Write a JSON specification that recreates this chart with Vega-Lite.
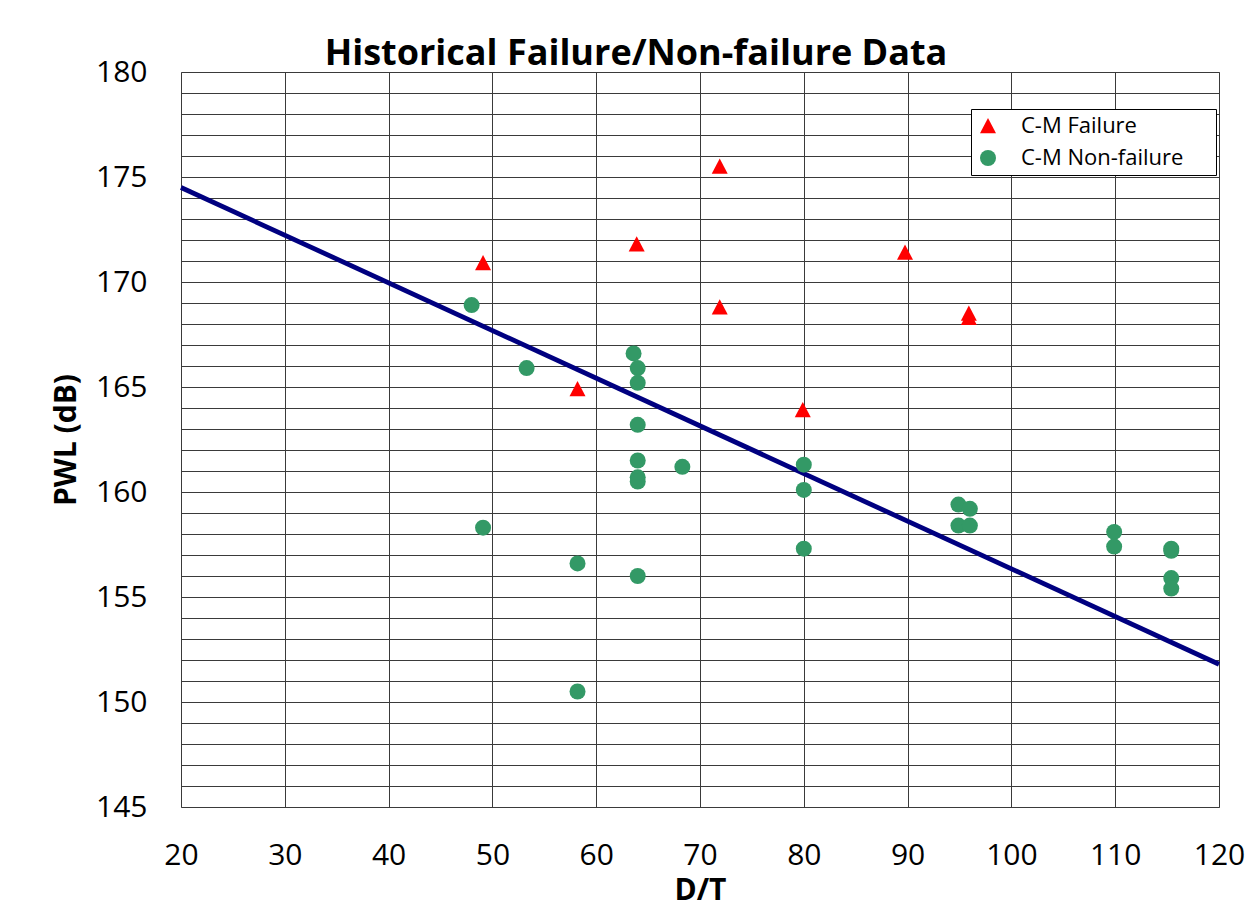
{
  "$schema": "https://vega.github.io/schema/vega-lite/v6.json",
  "width": 1038,
  "height": 735,
  "autosize": {"type": "none"},
  "padding": {"left": 181, "top": 72, "right": 28, "bottom": 100},
  "background": "white",
  "title": {
    "text": "Historical Failure/Non-failure Data",
    "font": "Open Sans",
    "fontSize": 36,
    "fontWeight": "bold",
    "color": "#000000",
    "anchor": "middle",
    "frame": "group",
    "dx": -64,
    "dy": 51,
    "baseline": "alphabetic",
    "offset": 7
  },
  "config": {
    "view": {"stroke": "#8c8c8c", "strokeWidth": 1},
    "axis": {
      "labelFont": "Open Sans",
      "labelFontSize": 30,
      "labelColor": "#000000",
      "labelFlush": false,
      "labelOverlap": false,
      "titleFont": "Open Sans",
      "titleFontSize": 30,
      "titleFontWeight": "bold",
      "titleColor": "#000000",
      "grid": true,
      "gridColor": "#3a3a3a",
      "gridWidth": 1,
      "gridOpacity": 1,
      "domain": false,
      "ticks": false
    },
    "legend": {
      "labelFont": "Open Sans",
      "labelFontSize": 22,
      "labelColor": "#000000",
      "labelLimit": 400
    }
  },
  "datasets": {
    "trend": [
      {"DT": 20, "PWL": 174.5},
      {"DT": 120, "PWL": 151.8}
    ],
    "points": [
      {"DT": 49.1, "PWL": 170.9, "Series": "C-M Failure"},
      {"DT": 63.9, "PWL": 171.8, "Series": "C-M Failure"},
      {"DT": 71.9, "PWL": 175.5, "Series": "C-M Failure"},
      {"DT": 71.9, "PWL": 168.8, "Series": "C-M Failure"},
      {"DT": 58.2, "PWL": 164.9, "Series": "C-M Failure"},
      {"DT": 79.9, "PWL": 163.9, "Series": "C-M Failure"},
      {"DT": 89.75, "PWL": 171.4, "Series": "C-M Failure"},
      {"DT": 95.9, "PWL": 168.5, "Series": "C-M Failure"},
      {"DT": 95.9, "PWL": 168.3, "Series": "C-M Failure"},
      {"DT": 48.0, "PWL": 168.9, "Series": "C-M Non-failure"},
      {"DT": 53.3, "PWL": 165.9, "Series": "C-M Non-failure"},
      {"DT": 49.1, "PWL": 158.3, "Series": "C-M Non-failure"},
      {"DT": 58.2, "PWL": 156.6, "Series": "C-M Non-failure"},
      {"DT": 58.2, "PWL": 150.5, "Series": "C-M Non-failure"},
      {"DT": 63.6, "PWL": 166.6, "Series": "C-M Non-failure"},
      {"DT": 64.0, "PWL": 165.9, "Series": "C-M Non-failure"},
      {"DT": 64.0, "PWL": 165.2, "Series": "C-M Non-failure"},
      {"DT": 64.0, "PWL": 163.2, "Series": "C-M Non-failure"},
      {"DT": 64.0, "PWL": 161.5, "Series": "C-M Non-failure"},
      {"DT": 64.0, "PWL": 160.7, "Series": "C-M Non-failure"},
      {"DT": 64.0, "PWL": 160.5, "Series": "C-M Non-failure"},
      {"DT": 64.0, "PWL": 156.0, "Series": "C-M Non-failure"},
      {"DT": 68.3, "PWL": 161.2, "Series": "C-M Non-failure"},
      {"DT": 80.0, "PWL": 161.3, "Series": "C-M Non-failure"},
      {"DT": 80.0, "PWL": 160.1, "Series": "C-M Non-failure"},
      {"DT": 80.0, "PWL": 157.3, "Series": "C-M Non-failure"},
      {"DT": 94.9, "PWL": 159.4, "Series": "C-M Non-failure"},
      {"DT": 96.0, "PWL": 159.2, "Series": "C-M Non-failure"},
      {"DT": 94.9, "PWL": 158.4, "Series": "C-M Non-failure"},
      {"DT": 96.0, "PWL": 158.4, "Series": "C-M Non-failure"},
      {"DT": 109.9, "PWL": 158.1, "Series": "C-M Non-failure"},
      {"DT": 109.9, "PWL": 157.4, "Series": "C-M Non-failure"},
      {"DT": 115.4, "PWL": 157.3, "Series": "C-M Non-failure"},
      {"DT": 115.4, "PWL": 157.2, "Series": "C-M Non-failure"},
      {"DT": 115.4, "PWL": 155.9, "Series": "C-M Non-failure"},
      {"DT": 115.4, "PWL": 155.4, "Series": "C-M Non-failure"}
    ]
  },
  "encoding": {
    "x": {
      "field": "DT",
      "type": "quantitative",
      "scale": {"domain": [20, 120], "nice": false, "zero": false},
      "axis": {
        "title": "D/T",
        "values": [20, 30, 40, 50, 60, 70, 80, 90, 100, 110, 120],
        "tickCount": 20,
        "format": "d",
        "labelPadding": 57,
        "labelBaseline": "alphabetic",
        "titleX": 519,
        "titleY": 92,
        "titleBaseline": "alphabetic",
        "titleAlign": "center"
      }
    },
    "y": {
      "field": "PWL",
      "type": "quantitative",
      "scale": {"domain": [145, 180], "nice": false, "zero": false},
      "axis": {
        "title": "PWL (dB)",
        "values": [145,146,147,148,149,150,151,152,153,154,155,156,157,158,159,160,161,162,163,164,165,166,167,168,169,170,171,172,173,174,175,176,177,178,179,180],
        "tickCount": 60,
        "format": "d",
        "labelExpr": "datum.value % 5 === 0 ? datum.label : ''",
        "labelPadding": 34,
        "labelBaseline": "middle",
        "titleX": -115,
        "titleY": 367.5,
        "titleAngle": -90,
        "titleAlign": "center",
        "titleBaseline": "middle"
      }
    }
  },
  "layer": [
    {
      "data": {"name": "trend"},
      "mark": {"type": "line", "color": "#000080", "strokeWidth": 4.8}
    },
    {
      "data": {"name": "points"},
      "mark": {"type": "point", "filled": true, "opacity": 1, "size": 256},
      "encoding": {
        "color": {
          "field": "Series",
          "type": "nominal",
          "scale": {"domain": ["C-M Failure", "C-M Non-failure"], "range": ["#ff0000", "#339966"]},
          "legend": {
            "title": "\u00a0",
            "titleOrient": "right",
            "titlePadding": 27,
            "titleFontSize": 22,
            "orient": "none",
            "legendX": 790,
            "legendY": 37,
            "fillColor": "#ffffff",
            "strokeColor": "#000000",
            "padding": 6,
            "rowPadding": 10,
            "symbolSize": 256,
            "symbolOffset": 0,
            "labelOffset": 22,
            "symbolStrokeWidth": 0
          }
        },
        "shape": {
          "field": "Series",
          "type": "nominal",
          "scale": {"domain": ["C-M Failure", "C-M Non-failure"], "range": ["M0,-1L1,0.9L-1,0.9Z", "circle"]}
        }
      }
    }
  ]
}
